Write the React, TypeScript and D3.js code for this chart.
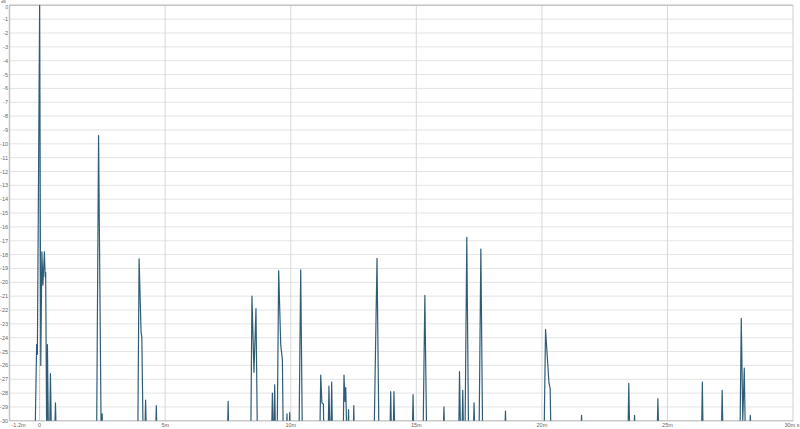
import React from "react";
import * as d3 from "d3";

// Impulse-response envelope vertices (time in ms, level in dB; -31 = below the -30 floor)
const timeMs: number[] = [
  -1.2, -0.18, -0.12, -0.09, 0, 0.045, 0.09, 0.13, 0.19, 0.22, 0.24, 0.28, 0.29, 0.31, 0.35, 0.4, 0.43, 0.47, 0.6, 0.63, 0.66,
  2.27, 2.347, 2.45, 2.47, 2.49, 2.51,
  3.91, 3.96, 4.04, 4.07, 4.12, 4.19, 4.22, 4.25, 4.62, 4.646, 4.67,
  7.48, 7.507, 7.53,
  8.41, 8.455, 8.535, 8.615, 8.67,
  9.24, 9.268, 9.3, 9.33, 9.36, 9.39, 9.46, 9.519, 9.6, 9.667, 9.7, 9.83, 9.85, 9.87, 9.94, 9.958, 9.98,
  10.33, 10.396, 10.46,
  11.16, 11.193, 11.24, 11.3, 11.32, 11.49, 11.52, 11.56, 11.6, 11.63, 11.66,
  12.09, 12.12, 12.16, 12.19, 12.23, 12.28, 12.3, 12.32, 12.49, 12.51, 12.53,
  13.32, 13.35, 13.435, 13.51, 13.95, 13.98, 14.01, 14.08, 14.11, 14.14,
  14.84, 14.87, 14.9, 15.27, 15.34, 15.41,
  16.07, 16.1, 16.13, 16.69, 16.72, 16.76, 16.82, 16.85, 16.88, 16.94, 17.01, 17.08,
  17.27, 17.3, 17.33, 17.5, 17.57, 17.64,
  18.52, 18.55, 18.58,
  20.09, 20.146, 20.28, 20.33, 20.36,
  21.55, 21.58, 21.61,
  23.43, 23.46, 23.5, 23.66, 23.69, 23.72,
  24.59, 24.62, 24.65,
  26.36, 26.39, 26.42,
  27.15, 27.18, 27.21,
  27.89, 27.94, 28.0, 28.06, 28.1, 28.27, 28.3, 28.33,
  30,
];

const levelDb: number[] = [
  -31, -31, -24.5, -25.2, 0, -26, -17.8, -20.2, -17.8, -19.6, -19.3, -31, -31, -24.5, -31, -31, -26.6, -31, -31, -28.7, -31,
  -31, -9.4, -31, -31, -29.5, -31,
  -31, -18.3, -23.6, -24.0, -31, -31, -28.5, -31, -31, -28.9, -31,
  -31, -28.6, -31,
  -31, -21.0, -26.5, -21.9, -31,
  -31, -28.0, -31, -31, -27.4, -31, -31, -19.16, -24.5, -25.6, -31, -31, -29.5, -31, -31, -29.4, -31,
  -31, -19.1, -31,
  -31, -26.7, -28.7, -28.8, -31, -31, -27.5, -31, -31, -27.2, -31,
  -31, -26.7, -28.6, -27.6, -31, -31, -29.2, -31, -31, -28.9, -31,
  -31, -27.7, -18.27, -31, -31, -27.9, -31, -31, -27.9, -31,
  -31, -28.1, -31, -31, -20.95, -31,
  -31, -29.0, -31, -31, -26.45, -31, -31, -27.8, -31, -31, -16.75, -31,
  -31, -28.7, -31, -31, -17.6, -31,
  -31, -29.3, -31,
  -31, -23.4, -27.2, -27.7, -31,
  -31, -29.6, -31,
  -31, -27.3, -31, -31, -29.6, -31,
  -31, -28.4, -31,
  -31, -27.2, -31,
  -31, -27.8, -31,
  -31, -22.6, -30, -26.2, -31, -31, -29.6, -31,
  -31,
];

const yTicks: number[] = d3.range(0, -31, -1);
const xGridTicks: number[] = [5, 10, 15, 20, 25];
const xTickValues: number[] = [-1.2, 0, 5, 10, 15, 20, 25, 30];
const xTickLabels: string[] = ["-1.2m", "0", "5m", "10m", "15m", "20m", "25m", "30m s"];

export default function App() {
  const W = 800;
  const H = 429;
  const left = 9.5;
  const right = 793;
  const top = 5.3;
  const bottom = 420.8;

  const x = d3.scaleLinear().domain([-1.2, 30]).range([left, right]);
  const y = d3.scaleLinear().domain([0, -30]).range([top, bottom]);

  const pts: [number, number][] = timeMs.map((t, i) => [t, levelDb[i]]);
  const line = d3
    .line<[number, number]>()
    .x((d) => x(d[0]))
    .y((d) => y(d[1]));

  return (
    <svg
      width={W}
      height={H}
      style={{ position: "absolute", left: 0, top: 0, background: "#fff" }}
      fontFamily="Liberation Sans, Arial, sans-serif"
    >
      <defs>
        <clipPath id="plotClip">
          <rect x={left} y={top - 2} width={right - left} height={bottom - top + 2} />
        </clipPath>
      </defs>
      {/* horizontal grid */}
      {yTicks.map((v) => (
        <line key={"h" + v} x1={left} x2={right} y1={y(v)} y2={y(v)} stroke="#e4e4e4" strokeWidth={1} />
      ))}
      {/* vertical grid */}
      {xGridTicks.map((v) => (
        <line key={"v" + v} x1={x(v)} x2={x(v)} y1={top} y2={bottom} stroke="#d8d8d8" strokeWidth={1} />
      ))}
      {/* zero marker */}
      <line x1={x(0)} x2={x(0)} y1={top} y2={bottom} stroke="#e07a7a" strokeWidth={1} strokeDasharray="1,1" />
      {/* frame */}
      <line x1={left} x2={right} y1={top} y2={top} stroke="#c4c4c4" strokeWidth={1.5} />
      <line x1={left} x2={left} y1={top} y2={bottom} stroke="#c4c4c4" strokeWidth={1.5} />
      <line x1={right} x2={right} y1={top} y2={bottom} stroke="#cfcfcf" strokeWidth={1} />
      <line x1={left} x2={right} y1={bottom} y2={bottom} stroke="#bdbdbd" strokeWidth={1} />
      {/* curve */}
      <path
        d={line(pts) || ""}
        fill="none"
        stroke="#2f5d78"
        strokeWidth={1.2}
        strokeLinejoin="round"
        clipPath="url(#plotClip)"
      />
      {/* y labels */}
      {yTicks.map((v) => (
        <text
          key={"yl" + v}
          x={left - 1.5}
          y={v === 0 ? y(v) + 3.2 : y(v) + 2}
          fontSize={v === 0 ? 4.5 : 5.5}
          fill="#666"
          textAnchor="end"
        >
          {v}
        </text>
      ))}
      <text x={1} y={3.4} fontSize={4} fill="#666">
        dB
      </text>
      {/* x labels */}
      {xTickValues.map((v, i) => (
        <text
          key={"xl" + v}
          x={i === 0 ? x(v) + 2 : i === xTickValues.length - 1 ? x(v) - 1 : x(v)}
          y={427}
          fontSize={5.5}
          fill="#666"
          textAnchor={i === 0 ? "start" : "middle"}
        >
          {xTickLabels[i]}
        </text>
      ))}
    </svg>
  );
}
